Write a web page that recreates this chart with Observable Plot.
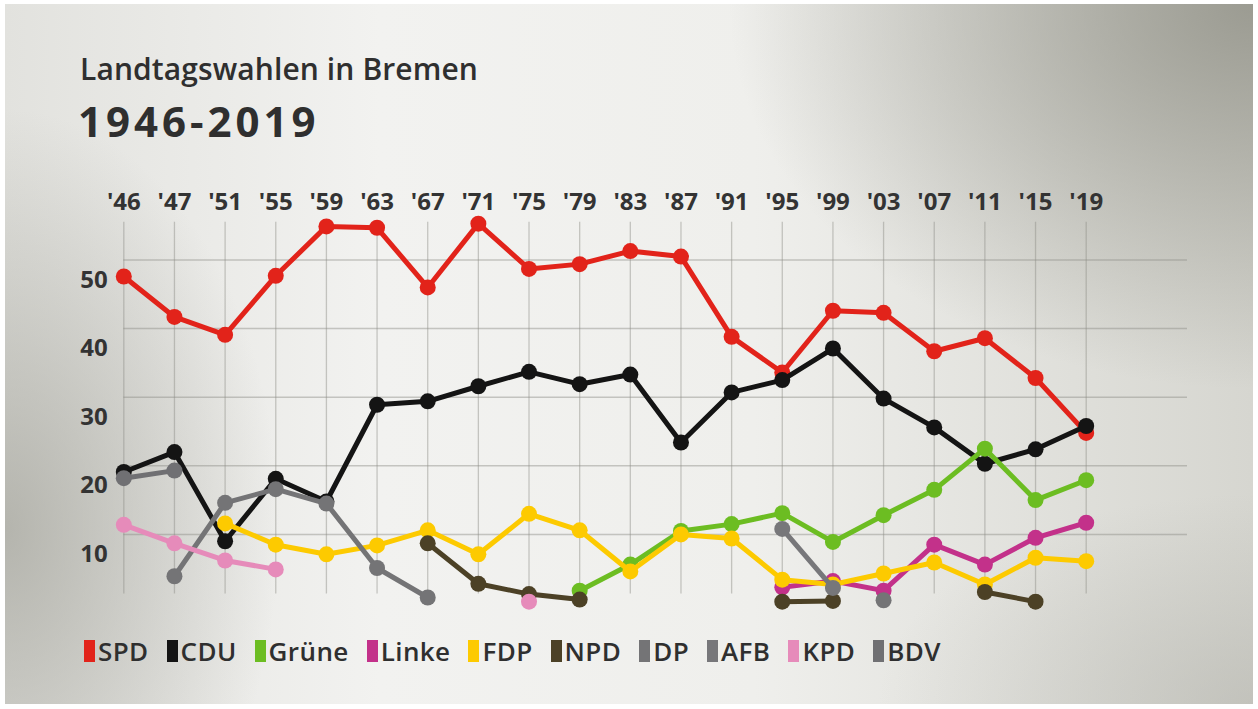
<!DOCTYPE html>
<html>
<head>
<meta charset="utf-8">
<script src="https://cdn.jsdelivr.net/npm/d3@7"></script>
<script src="https://cdn.jsdelivr.net/npm/@observablehq/plot@0.6"></script>
<style>
  html, body { margin: 0; padding: 0; background: #fff; }
  #frame {
    position: relative; width: 1258px; height: 709px; overflow: hidden;
    background: #fff;
  }
  #panel {
    position: absolute; left: 5px; top: 4px; right: 5px; bottom: 5px;
    background:
      radial-gradient(ellipse 42% 55% at 100% 0%, rgba(145,145,135,0.85), rgba(145,145,135,0) 100%),
      radial-gradient(ellipse 22% 60% at 0% 75%, rgba(165,165,157,0.75), rgba(165,165,157,0) 100%),
      radial-gradient(ellipse 30% 30% at 100% 100%, rgba(175,175,168,0.5), rgba(175,175,168,0) 100%),
      linear-gradient(to right, #e2e2de 0%, #f2f2f0 30%, #efefec 60%, #d6d6d0 100%);
  }
  #title {
    position: absolute; left: 80px; top: 48px;
    font-family: "Open Sans", sans-serif; font-weight: 600; font-size: 30px;
    color: #2f2f2f; letter-spacing: 0.1px;
  }
  #subtitle {
    position: absolute; left: 78px; top: 92px;
    font-family: "Open Sans", sans-serif; font-weight: 700; font-size: 42px;
    color: #2f2f2f; letter-spacing: 4px;
  }
  #chart { position: absolute; left: 0; top: 170px; }
  #legend {
    position: absolute; left: 84px; top: 633px; display: flex; align-items: center;
    font-family: "Open Sans", sans-serif; font-weight: 600; font-size: 26px; color: #2f2f2f;
    letter-spacing: 0.4px;
  }
  .item { display: flex; align-items: center; margin-right: 18px; }
  .sw { width: 11px; height: 22px; margin-right: 3px; }
</style>
</head>
<body>
<div id="frame">
  <div id="panel"></div>
  <div id="title">Landtagswahlen in Bremen</div>
  <div id="subtitle">1946-2019</div>
  <div id="chart"></div>
  <div id="legend"></div>
</div>
<script>
// Election years (tick labels)
const years = ["'46","'47","'51","'55","'59","'63","'67","'71","'75","'79","'83","'87","'91","'95","'99","'03","'07","'11","'15","'19"];

// Y tick values
const yTicks = [10, 20, 30, 40, 50];

// Parties and colours (legend order = drawing order)
const parties = ["SPD","CDU","Grüne","Linke","FDP","NPD","DP","AFB","KPD","BDV"];
const colors  = ["#e2231a","#141414","#6cbd22","#c3318a","#fdca00","#4c4126","#747476","#77777a","#e68bba","#707073"];

// Vote shares in %, one value per election year (null = not plotted)
const SPD   = [47.6, 41.7, 39.1, 47.7, 54.9, 54.7, 46.0, 55.3, 48.7, 49.4, 51.3, 50.5, 38.8, 33.6, 42.6, 42.3, 36.7, 38.6, 32.8, 24.8];
const CDU   = [19.1, 22.0, 9.0, 18.1, 14.8, 28.9, 29.4, 31.6, 33.7, 31.9, 33.3, 23.4, 30.7, 32.5, 37.1, 29.8, 25.6, 20.3, 22.4, 25.8];
const GRUENE= [null, null, null, null, null, null, null, null, null, 1.8, 5.6, 10.5, 11.5, 13.1, 8.9, 12.8, 16.5, 22.5, 15.0, 17.9];
const LINKE = [null, null, null, null, null, null, null, null, null, null, null, null, null, 2.3, 3.2, 1.8, 8.5, 5.6, 9.5, 11.7];
const FDP   = [null, null, 11.6, 8.5, 7.1, 8.4, 10.6, 7.1, 13.0, 10.6, 4.6, 10.0, 9.4, 3.4, 2.7, 4.3, 5.9, 2.7, 6.6, 6.1];
const NPD   = [null, null, null, null, null, null, 8.7, 2.8, 1.3, 0.5, null, null, null, 0.2, 0.3, null, null, 1.6, 0.2, null];
const DP    = [null, 3.9, 14.6, 16.6, 14.5, 5.1, 0.8, null, null, null, null, null, null, null, null, 0.4, null, null, null, null];
const AFB   = [null, null, null, null, null, null, null, null, null, null, null, null, null, 10.8, 2.2, null, null, null, null, null];
const KPD   = [11.4, 8.7, 6.2, 4.9, null, null, null, null, 0.2, null, null, null, null, null, null, null, null, null, null, null];
const BDV   = [18.2, 19.3, null, null, null, null, null, null, null, null, null, null, null, null, null, null, null, null, null, null];

const series = [SPD, CDU, GRUENE, LINKE, FDP, NPD, DP, AFB, KPD, BDV];

const idx = d3.range(years.length);
const marks = [
  Plot.ruleY(yTicks, {stroke: "#8c8c86", strokeOpacity: 0.45, strokeWidth: 1.5}),
  Plot.ruleX(idx, {x: d => d, y1: 1.3, y2: 55.5, stroke: "#8c8c86", strokeOpacity: 0.45, strokeWidth: 1.3}),
  Plot.axisX({anchor: "top", ticks: idx, tickFormat: i => years[i], tickSize: 0, tickPadding: 2, fontSize: 24, fontWeight: 700, label: null}),
  Plot.axisY({anchor: "left", ticks: yTicks, tickSize: 0, tickPadding: 16, dy: 20, fontSize: 24, fontWeight: 700, label: null})
];
series.forEach((vals, k) => {
  const data = vals.map((v, i) => ({i, v}));
  marks.push(Plot.line(data, {x: "i", y: "v", stroke: colors[k], strokeWidth: 5, strokeLinejoin: "round", strokeLinecap: "round"}));
  marks.push(Plot.dot(data, {x: "i", y: "v", r: 8, fill: colors[k], stroke: "none"}));
});

const chart = Plot.plot({
  width: 1258,
  height: 460,
  marginTop: 41.5,
  marginBottom: 27.5,
  marginLeft: 123.3,
  marginRight: 71,
  x: {type: "linear", domain: [0, 21], axis: null, label: null},
  y: {domain: [0, 57], axis: null, label: null},
  style: {background: "transparent", fontFamily: "'Open Sans', sans-serif", color: "#333", overflow: "visible"},
  marks
});
document.getElementById("chart").appendChild(chart);

const legend = document.getElementById("legend");
parties.forEach((p, k) => {
  const it = document.createElement("div");
  it.className = "item";
  const sw = document.createElement("div");
  sw.className = "sw";
  sw.style.background = colors[k];
  const t = document.createElement("span");
  t.textContent = p;
  it.appendChild(sw); it.appendChild(t);
  legend.appendChild(it);
});
</script>
</body>
</html>
